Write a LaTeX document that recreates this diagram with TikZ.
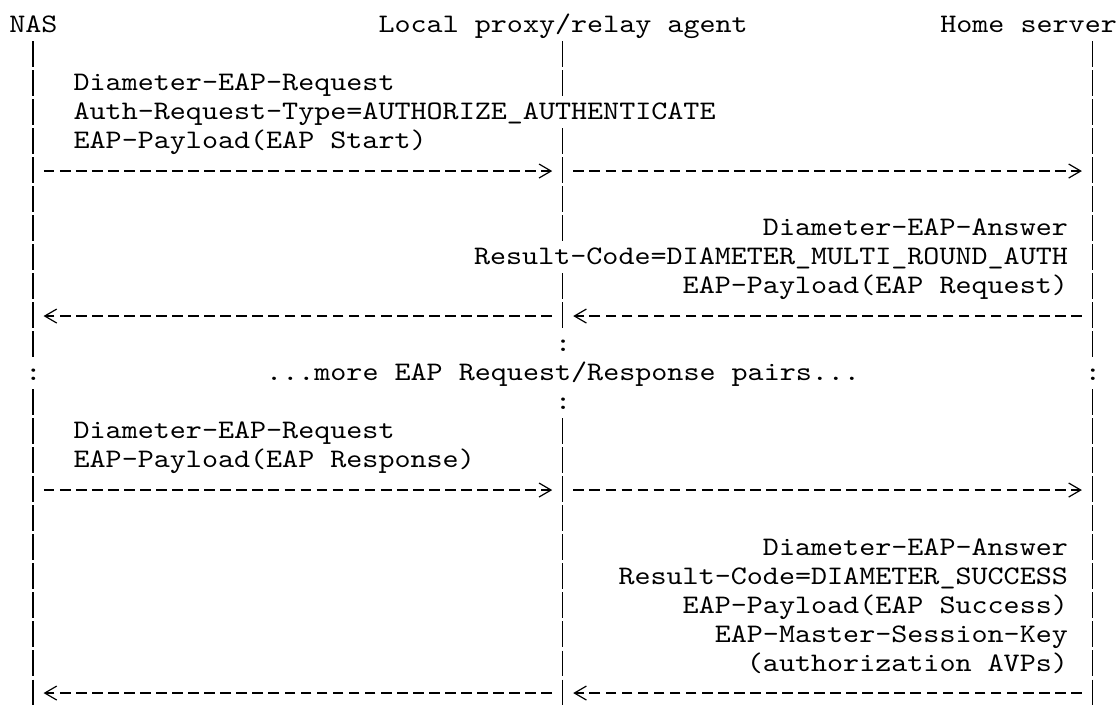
\documentclass[tikz,border=0pt]{standalone}
\usepackage{fontspec}
\setmonofont{lmmono10-regular}[Extension=.otf,FakeStretch=1.142857]
\usetikzlibrary{arrows.meta}

\begin{document}
\begin{tikzpicture}[x=8.025pt,y=-14.5pt,>={Straight Barb[length=6pt,width=7pt]}]

  \tikzstyle{txt}=[font=\ttfamily\fontsize{13.375pt}{14.5pt}\selectfont,
    inner sep=0pt,anchor=base west]

  \tikzstyle{txtr}=[txt,anchor=base east]

  \tikzstyle{life}=[line width=0.65pt,dash pattern=on 12.75pt off 1.75pt]

  \tikzstyle{msg}=[->,line width=0.6pt,dash pattern=on 5.35pt off 2.675pt,
    shorten <=5.35pt,shorten >=5.25pt]

  \useasboundingbox (-0.5607,-0.138) rectangle (69.097,24.828);

  %% one unit = one column / one line of the listing

  \node  (nas)   at (0,1)   [txt]  {NAS};
  \node  (proxy) at (23,1)  [txt]  {Local proxy/relay agent};
  \node  (home)  at (58,1)  [txt]  {Home server};

  \node  (req1)  at (4,3)   [txt]  {Diameter-EAP-Request};
  \node  (type1) at (4,4)   [txt]  {Auth-Request-Type=AUTHORIZE\_AUTHENTICATE};
  \node  (pay1)  at (4,5)   [txt]  {EAP-Payload(EAP Start)};

  \node  (ans1)  at (66,8)  [txtr] {Diameter-EAP-Answer};
  \node  (res1)  at (66,9)  [txtr] {Result-Code=DIAMETER\_MULTI\_ROUND\_AUTH};
  \node  (pay2)  at (66,10) [txtr] {EAP-Payload(EAP Request)};

  \node  (dotp1) at (34,12) [txt]  {:};
  \node  (dotn)  at (1,13)  [txt]  {:};
  \node  (more)  at (16,13) [txt]  {...more EAP Request/Response pairs...};
  \node  (doth)  at (67,13) [txt]  {:};
  \node  (dotp2) at (34,14) [txt]  {:};

  \node  (req2)  at (4,15)  [txt]  {Diameter-EAP-Request};
  \node  (pay3)  at (4,16)  [txt]  {EAP-Payload(EAP Response)};

  \node  (ans2)  at (66,19) [txtr] {Diameter-EAP-Answer};
  \node  (res2)  at (66,20) [txtr] {Result-Code=DIAMETER\_SUCCESS};
  \node  (pay4)  at (66,21) [txtr] {EAP-Payload(EAP Success)};
  \node  (msk)   at (66,22) [txtr] {EAP-Master-Session-Key};
  \node  (avp)   at (66,23) [txtr] {(authorization AVPs)};

  %% life lines, cut where a text runs across
  \foreach \x/\a/\b [count=\k] in {1.5/2/12, 1.5/14/24,
      34.5/2/3, 34.5/5/8, 34.5/10/11, 34.5/15/24,
      67.5/2/12, 67.5/14/24}
  {
    \coordinate (top\k) at (\x,\a-0.707);
    \coordinate (bot\k) at (\x,\b+0.172);
    \draw [life] (top\k) -- (bot\k);
  }

  \foreach \r in {6,11,17,24}
  {
    \coordinate (nas\r) at (1.5,\r-0.24);
    \coordinate (prx\r) at (34.5,\r-0.24);
    \coordinate (hs\r)  at (67.5,\r-0.24);
  }

  \path (nas6)  edge [msg] (prx6)
        (prx6)  edge [msg] (hs6)
        (hs11)  edge [msg] (prx11)
        (prx11) edge [msg] (nas11)
        (nas17) edge [msg] (prx17)
        (prx17) edge [msg] (hs17)
        (hs24)  edge [msg] (prx24)
        (prx24) edge [msg] (nas24);

\end{tikzpicture}
\end{document}
